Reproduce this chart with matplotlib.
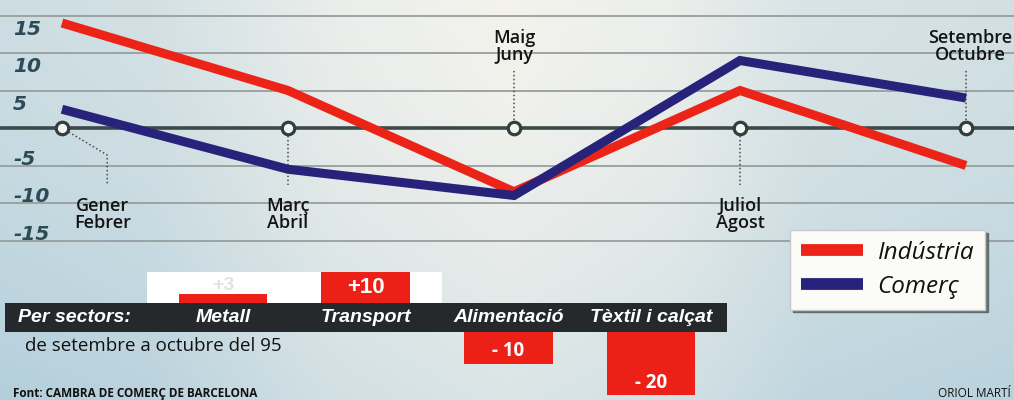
import matplotlib
matplotlib.use('Agg')
import matplotlib.pyplot as plt
import matplotlib.transforms as mtransforms
from matplotlib.patches import Rectangle
import numpy as np

# ---------------- data ----------------
periods = ['Gener\nFebrer', 'Març\nAbril', 'Maig\nJuny', 'Juliol\nAgost', 'Setembre\nOctubre']
industria = [14, 5, -8.5, 5, -5]
comerc = [2.5, -5.5, -9, 9, 4]
yticks = [15, 10, 5, -5, -10, -15]

sectors = ['Metall', 'Transport', 'Alimentació', 'Tèxtil i calçat']
sector_values = [3, 10, -10, -20]

# ---------------- figure ----------------
W, H = 1014, 400
fig = plt.figure(figsize=(W / 100, H / 100), dpi=100)


def fx(px):
    return px / W


def fy(py):
    return 1 - py / H


# background (paper gradient)
bg = fig.add_axes([0, 0, 1, 1], zorder=-10)
bg.set_xlim(0, W)
bg.set_ylim(H, 0)
bg.axis('off')
gx = np.linspace(0, 1, W)
gy = np.linspace(0, 1, H)
wx = np.interp(gx, [0, 0.15, 0.33, 0.5, 0.66, 0.8, 1.0], [0.6, 0.5, 0.14, 0.0, 0.12, 0.42, 0.52])
w = np.clip(wx[None, :] + 0.38 * gy[:, None] ** 1.5, 0, 1)[..., None]
cream = np.array([0.955, 0.952, 0.93])
blue = np.array([0.70, 0.81, 0.86])
img = cream * (1 - w) + blue * w
bg.imshow(img, extent=(0, W, H, 0), aspect='auto', interpolation='bilinear')
# white box behind positive bars and dark sector band
bg.add_patch(Rectangle((147, 272), 295, 31, color='white', lw=0))
bg.add_patch(Rectangle((5, 303), 722, 29, color='#25292b', lw=0))

# ---------------- line chart ----------------
px_per_unit = 7.5
zero_px = 128
x0_px, dx_px = 62, 226
ax = fig.add_axes([0, fy(262), 1, 262 / H])
ax.set_xlim(-x0_px / dx_px, (W - x0_px) / dx_px)
ax.set_ylim(-(262 - zero_px) / px_per_unit, zero_px / px_per_unit)
ax.axis('off')

x = np.arange(len(periods))
for v in yticks:
    ax.axhline(v, color='#979f9e', lw=1.3, zorder=1)
ax.axhline(0, color='#3a4a49', lw=2.6, zorder=2)

tr_y = mtransforms.blended_transform_factory(ax.transAxes, ax.transData)
for v in yticks:
    ax.text(13 / W, v - 2.6 if v > 0 else v + 0.1, f'{v}', transform=tr_y,
            ha='left', va='baseline', fontsize=14.5, fontweight='bold',
            fontstyle='italic', color='#2d4b56', family='DejaVu Sans')

l_ind, = ax.plot(x, industria, color='#ec2418', lw=6.5, solid_capstyle='butt',
                 solid_joinstyle='miter', zorder=4, label='Indústria')
l_com, = ax.plot(x, comerc, color='#27237a', lw=6.5, solid_capstyle='butt',
                 solid_joinstyle='miter', zorder=5, label='Comerç')
ax.plot(x, np.zeros(len(x)), 'o', ms=9, mfc='#f5f5f0', mec='#2f3e3e', mew=2.3, zorder=6)

# connectors and period labels (offsets relative to each point)
dot = dict(color='#4a4a4a', lw=1.1, ls=(0, (1, 1.6)), zorder=3)
ax.plot([0, 0.2, 0.2], [0, -3.6, -7.6], **dot)
ax.plot([1, 1], [0, -7.6], **dot)
ax.plot([2, 2], [0, 7.7], **dot)
ax.plot([3, 3], [0, -7.6], **dot)
ax.plot([4, 4], [0, 7.7], **dot)

label_off = [(0.18, -11.5), (0, -11.5), (0, 10.9), (0, -11.5), (0.018, 10.9)]
for i, (lab, (ox, oy)) in enumerate(zip(periods, label_off)):
    ax.text(i + ox, oy, lab, ha='center', va='center', fontsize=13,
            family='Open Sans', fontweight='semibold', color='#141414',
            linespacing=0.95, zorder=7)

leg = ax.legend(handles=[l_ind, l_com], labels=['Indústria', 'Comerç'],
                loc='upper left', bbox_to_anchor=(fx(790), fy(230)),
                bbox_transform=fig.transFigure, borderaxespad=0, frameon=True,
                fancybox=False, framealpha=1, facecolor='#fbfbf8', edgecolor='#c8c8c8',
                prop=dict(family='Open Sans', style='italic', size=17.5),
                handlelength=2.55, handletextpad=0.6, borderpad=0.45,
                labelspacing=0.4, shadow=dict(color='#5d6667', alpha=0.9))
for ln in leg.get_lines():
    ln.set_linewidth(8.5)
for t in leg.get_texts():
    t.set_color('#111111')

# ---------------- sector bars ----------------
bar_px = 3.15
bx0, bdx = 223, 142.7
xs = np.arange(len(sectors))
ax_pos = fig.add_axes([0, fy(303), 1, (303 - 262) / H])
ax_neg = fig.add_axes([0, 0, 1, (H - 332) / H])
for a in (ax_pos, ax_neg):
    a.set_xlim(-bx0 / bdx, (W - bx0) / bdx)
    a.axis('off')
    a.bar(xs, sector_values, width=0.62, color='#ec2016', lw=0)
ax_pos.set_ylim(0, 41 / bar_px)
ax_neg.set_ylim(-(H - 332) / bar_px, 0)

for xi, v in zip(xs, sector_values):
    s = f'{v:+d}'
    if v > 0:
        if v >= 5:
            ax_pos.text(xi, v - 5, s, ha='center', va='center', color='white',
                        fontsize=16, fontweight='bold', family='Liberation Sans')
        else:
            ax_pos.text(xi, v + 2.7, s, ha='center', va='center', color='#e2e2e2',
                        fontsize=14, fontweight='bold', family='Liberation Sans')
    else:
        ax_neg.text(xi, v + 3.9, s.replace('-', '- '), ha='center', va='center',
                    color='white', fontsize=13.5, fontweight='bold', family='Open Sans')

tr_s = mtransforms.blended_transform_factory(ax_pos.transData, fig.transFigure)
for xi, name in zip(xs, sectors):
    ax_pos.text(xi, fy(318), name, transform=tr_s, ha='center', va='center',
                color='white', fontsize=14, fontweight='bold', fontstyle='italic',
                family='Liberation Sans')
fig.text(fx(18), fy(318), 'Per sectors:', ha='left', va='center', color='white',
         fontsize=14, fontweight='bold', fontstyle='italic', family='Liberation Sans')

fig.text(fx(25), fy(346), 'de setembre a octubre del 95', ha='left', va='center',
         fontsize=13.5, family='Open Sans', color='#111111')
fig.text(fx(13), fy(397), 'Font: CAMBRA DE COMERÇ DE BARCELONA', ha='left', va='baseline',
         fontsize=8.5, family='Open Sans', fontweight='bold', color='#111111')
fig.text(fx(938), fy(397), 'ORIOL MARTÍ', ha='left', va='baseline',
         fontsize=8.5, family='Open Sans', color='#111111')

fig.savefig('out.png', dpi=100)
